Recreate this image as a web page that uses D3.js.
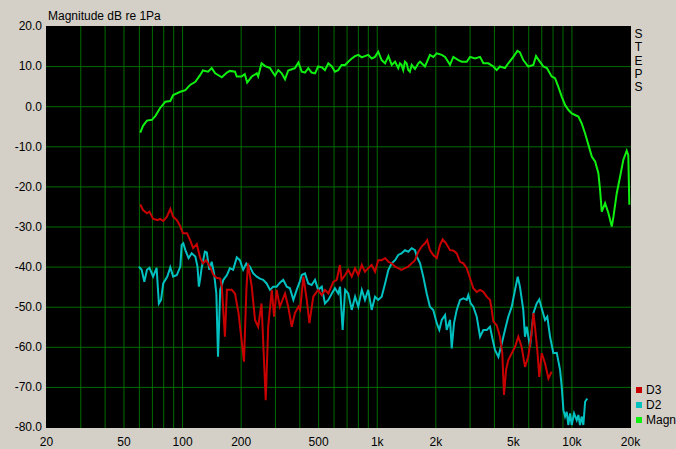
<!DOCTYPE html>
<html><head><meta charset="utf-8">
<script src="https://cdn.jsdelivr.net/npm/d3@7"></script>
<style>
html,body{margin:0;padding:0;background:#d4d0c8;}
svg{display:block;}
text{font-family:"Liberation Sans",Arial,sans-serif;}
</style></head>
<body>
<svg id="chart" width="676" height="449"></svg>
<script>
// ---------- data ----------
const freqMagn = [61,63,66,70,73,77,82,87,90,98,104,110,117,124,128,136,142,148,160,170,176,187,191,202,210,216,228,242,246,256,267,283,300,312,325,338,351,366,380,396,412,428,445,463,482,500,522,542,564,588,610,634,660,688,714,744,774,804,838,870,904,942,980,1018,1060,1104,1148,1194,1242,1290,1316,1340,1368,1396,1424,1452,1480,1512,1572,1636,1670,1770,1876,1952,2034,2158,2244,2380,2474,2626,2734,2900,3014,3200,3394,3530,3744,3972,4132,4296,4558,4740,5030,5280,5440,5660,6000,6380,6580,6840,7180,7480,7920,8240,8560,8920,9280,9640,10040,10440,10860,11300,11760,12240,12740,13240,13760,14040,14320,14900,15500,16120,16440,17100,17780,18480,19240,19600,19840];
const magn = [-6.6,-4.9,-3.6,-3.4,-2.4,-0.5,1.1,1.3,2.8,3.6,4.0,5.3,6.1,7.8,8.9,8.6,9.5,8.2,7.2,8.4,8.8,8.6,7.4,7.4,8.0,5.9,7.4,8.2,7.4,10.7,10.0,9.5,7.6,9.0,8.2,6.7,8.9,9.2,9.5,10.9,8.6,8.4,9.5,8.4,8.2,9.9,9.7,9.0,10.7,9.9,8.6,9.0,10.3,10.3,11.1,11.9,12.5,12.8,12.2,12.5,12.8,11.9,12.3,13.6,11.5,10.7,12.5,10.3,11.1,9.5,10.7,10.3,9.0,11.1,10.7,9.0,8.6,10.3,9.3,10.7,11.1,9.9,12.8,12.3,13.2,12.8,12.3,10.3,12.3,11.5,11.1,11.1,12.3,11.9,12.3,10.7,10.7,9.9,9.0,9.9,9.5,10.7,12.3,13.8,13.4,11.5,9.9,10.3,12.5,11.3,9.9,9.5,7.4,7.0,4.9,2.4,0.3,-0.9,-1.8,-2.2,-2.6,-4.3,-6.8,-9.7,-12.6,-13.8,-16.7,-20.9,-26.3,-24.2,-26.7,-30.0,-27.6,-21.7,-17.6,-13.4,-11.1,-12.2,-24.6];

const freqD3 = [61,63,66,68,71,75,77,80,83.5,87,90,94,98,101,106,110,114,119,124,128,133,139,145,150,157,160,166,170,180,187,195,208,214,218,228,237,246,256,269,277,289,297,306,318,338,351,366,380,396,404,420,437,451,472,500,522,542,564,598,623,647,660,688,714,744,774,804,838,870,904,942,980,1018,1060,1104,1148,1194,1242,1290,1340,1396,1452,1512,1572,1636,1702,1770,1816,1876,1952,2034,2114,2182,2270,2380,2474,2576,2678,2786,2900,3014,3134,3264,3394,3530,3672,3818,3898,3972,4132,4296,4416,4506,4616,4740,4938,5134,5336,5550,5776,6000,6250,6380,6500,6680,6840,7040,7320,7620,7920];
const d3v = [-24.5,-25.9,-26.7,-26.3,-28.1,-28.4,-28.1,-28.6,-27.6,-25.6,-27.6,-28.4,-30.0,-31.7,-31.7,-33.4,-35.4,-34.4,-37.9,-39.2,-38.4,-40.0,-42.1,-42.8,-43.0,-45.0,-57.5,-45.8,-45.8,-46.7,-51.6,-63.7,-45.8,-39.2,-45.0,-53.3,-55.0,-49.2,-73.3,-55.0,-45.8,-52.5,-45.8,-50.0,-46.7,-50.0,-55.0,-51.6,-50.0,-50.8,-42.5,-48.3,-54.1,-47.5,-45.8,-47.1,-45.8,-46.7,-43.8,-43.3,-39.6,-43.3,-42.1,-40.8,-42.5,-40.4,-42.1,-39.6,-41.3,-40.4,-39.6,-41.3,-38.4,-38.4,-37.9,-38.8,-39.2,-40.0,-40.4,-40.8,-40.4,-40.0,-39.2,-38.4,-36.3,-35.0,-34.2,-33.4,-35.9,-37.1,-37.9,-34.6,-33.2,-34.2,-35.9,-36.0,-36.7,-38.8,-39.2,-40.4,-42.9,-45.4,-46.3,-45.8,-46.3,-47.5,-48.3,-50.8,-53.7,-54.6,-57.5,-61.6,-72.0,-65.8,-63.3,-61.6,-60.0,-57.5,-60.0,-65.0,-62.5,-56.6,-51.6,-55.0,-60.8,-67.5,-61.6,-64.1,-67.9,-66.2];

const freqD2 = [60,62,64,66,68,71,74,76,78,80,84,87,90,94,98,99.5,101.5,104,108,112,117,120,122,124,126,131,134,138,142,146,150,153,157,163,170,176,183,191,198,206,214,223,232,242,251,261,272,283,294,306,318,331,345,358,373,388,404,412,428,445,463,482,500,522,542,564,588,610,634,648,668,688,714,744,774,804,838,870,904,942,980,1018,1060,1104,1148,1194,1242,1290,1340,1396,1452,1512,1572,1606,1670,1734,1806,1876,1952,2034,2096,2158,2244,2288,2380,2428,2494,2576,2678,2786,2900,2954,3040,3134,3264,3394,3530,3672,3818,3944,4050,4216,4388,4558,4740,4938,5134,5300,5440,5660,5776,5892,6132,6380,6634,6840,7000,7320,7520,7770,8080,8410,8750,8920,9100,9280,9460,9640,9840,10040,10320,10650,10860,11070,11300,11520,11760,12070];
const d2v = [-40.0,-40.8,-43.8,-40.8,-40.3,-42.5,-40.3,-49.2,-48.3,-44.2,-42.5,-40.2,-42.5,-42.1,-40.0,-34.6,-34.2,-35.9,-37.9,-36.7,-37.5,-40.0,-45.0,-42.9,-40.4,-36.3,-36.5,-40.8,-38.8,-41.7,-46.7,-62.5,-45.8,-43.3,-42.1,-40.4,-40.8,-37.7,-38.4,-40.8,-39.2,-40.0,-41.7,-42.5,-43.0,-43.3,-44.2,-45.8,-45.0,-45.0,-44.0,-43.3,-45.0,-45.4,-48.3,-45.8,-43.5,-42.1,-41.7,-44.2,-44.6,-43.3,-45.8,-45.0,-49.2,-48.3,-46.7,-45.4,-46.7,-45.0,-55.8,-45.8,-46.7,-50.8,-47.5,-50.0,-45.8,-48.3,-45.8,-50.8,-47.5,-48.3,-47.5,-44.2,-40.8,-39.2,-38.4,-37.1,-36.7,-35.9,-36.3,-35.4,-35.9,-37.5,-39.2,-42.5,-46.7,-50.0,-50.8,-54.1,-55.8,-53.3,-52.1,-55.8,-53.3,-60.4,-54.1,-50.8,-48.3,-47.9,-48.3,-47.1,-49.2,-50.0,-52.5,-57.5,-55.8,-55.8,-55.0,-58.3,-60.8,-62.5,-59.2,-55.8,-52.5,-50.0,-45.8,-42.5,-45.0,-50.8,-57.5,-55.0,-60.0,-51.6,-49.2,-48.2,-50.0,-53.3,-52.5,-57.5,-61.6,-61.5,-65.8,-70.0,-75.8,-77.4,-76.2,-79.5,-76.6,-79.5,-76.6,-78.3,-77.0,-79.5,-77.4,-79.5,-73.7,-72.9];

const xTickValues = [20,50,100,200,500,1000,2000,5000,10000,20000];
const xTickLabels = ["20","50","100","200","500","1k","2k","5k","10k","20k"];
const xGridValues = [30,40,50,60,70,80,90,100,200,300,400,500,600,700,800,900,1000,2000,3000,4000,5000,6000,7000,8000,9000,10000];
const yTickValues = [20,10,0,-10,-20,-30,-40,-50,-60,-70,-80];
const yGridValues = [10,0,-10,-20,-30,-40,-50,-60,-70];
const seriesNames = ["D3","D2","Magn"];
const seriesColors = ["#c80000","#00c0c0","#10f010"];
const titleText = "Magnitude dB re 1Pa";
const sideText = "STEPS";

// ---------- layout ----------
const L = 46, R = 630, T = 26, B = 427;
const svg = d3.select("#chart");
const x = d3.scaleLog().domain([20,20000]).range([L,R]);
const y = d3.scaleLinear().domain([-80,20]).range([B,T]);

svg.append("rect").attr("x",L).attr("y",T).attr("width",R-L+1).attr("height",B-T+1).attr("fill","#000");

// grid
const gridColor = "#006c00";
const gx = svg.append("g").attr("transform",`translate(0,${B+1})`)
  .call(d3.axisBottom(x).tickValues(xGridValues).tickSize(-(B-T+1)).tickFormat(""));
gx.select(".domain").remove();
gx.selectAll("line").attr("stroke",gridColor);
const gy = svg.append("g").attr("transform",`translate(${L},0)`)
  .call(d3.axisLeft(y).tickValues(yGridValues).tickSize(-(R-L+1)).tickFormat(""));
gy.select(".domain").remove();
gy.selectAll("line").attr("stroke",gridColor);

// clip
svg.append("clipPath").attr("id","clip").append("rect")
  .attr("x",L).attr("y",T).attr("width",R-L+1).attr("height",B-T+1);

const line = d3.line().x(d=>x(d[0])).y(d=>y(d[1]));
const plotG = svg.append("g").attr("clip-path","url(#clip)");
const series = [
  {f:freqMagn, v:magn, c:seriesColors[2]},
  {f:freqD2, v:d2v, c:seriesColors[1]},
  {f:freqD3, v:d3v, c:seriesColors[0]}
];
series.forEach(s=>{
  plotG.append("path").datum(s.f.map((f,i)=>[f,s.v[i]]))
    .attr("d",line).attr("fill","none").attr("stroke",s.c)
    .attr("stroke-width",2).attr("stroke-linejoin","miter");
});

// axes labels
const ay = svg.append("g").attr("transform",`translate(${L},0)`)
  .call(d3.axisLeft(y).tickValues(yTickValues).tickSize(0).tickPadding(4).tickFormat(d=>d.toFixed(1)));
ay.select(".domain").remove();
ay.selectAll("text").attr("font-size",12).attr("font-family","Liberation Sans, Arial, sans-serif").attr("fill","#000");

const ax = svg.append("g").attr("transform",`translate(0,${B})`)
  .call(d3.axisBottom(x).tickValues(xTickValues).tickSize(0).tickPadding(10)
    .tickFormat((d,i)=>xTickLabels[i]));
ax.select(".domain").remove();
ax.selectAll("text").attr("font-size",12).attr("font-family","Liberation Sans, Arial, sans-serif").attr("fill","#000");

// title
svg.append("text").attr("x",48).attr("y",19.5).attr("font-size",12).attr("fill","#000").text(titleText);

// side vertical text
svg.append("g").selectAll("text").data(sideText.split("")).join("text")
  .attr("x",638.5).attr("y",(d,i)=>38+i*13.3).attr("text-anchor","middle")
  .attr("font-size",12).attr("fill","#000").text(d=>d);

// legend
const lg = svg.append("g").selectAll("g").data(seriesNames).join("g")
  .attr("transform",(d,i)=>`translate(636,${387+i*15})`);
lg.append("rect").attr("width",6).attr("height",6).attr("fill",(d,i)=>seriesColors[i]);
lg.append("text").attr("x",10).attr("y",6.5).attr("font-size",12).attr("fill","#000").text(d=>d);
</script>
</body></html>
